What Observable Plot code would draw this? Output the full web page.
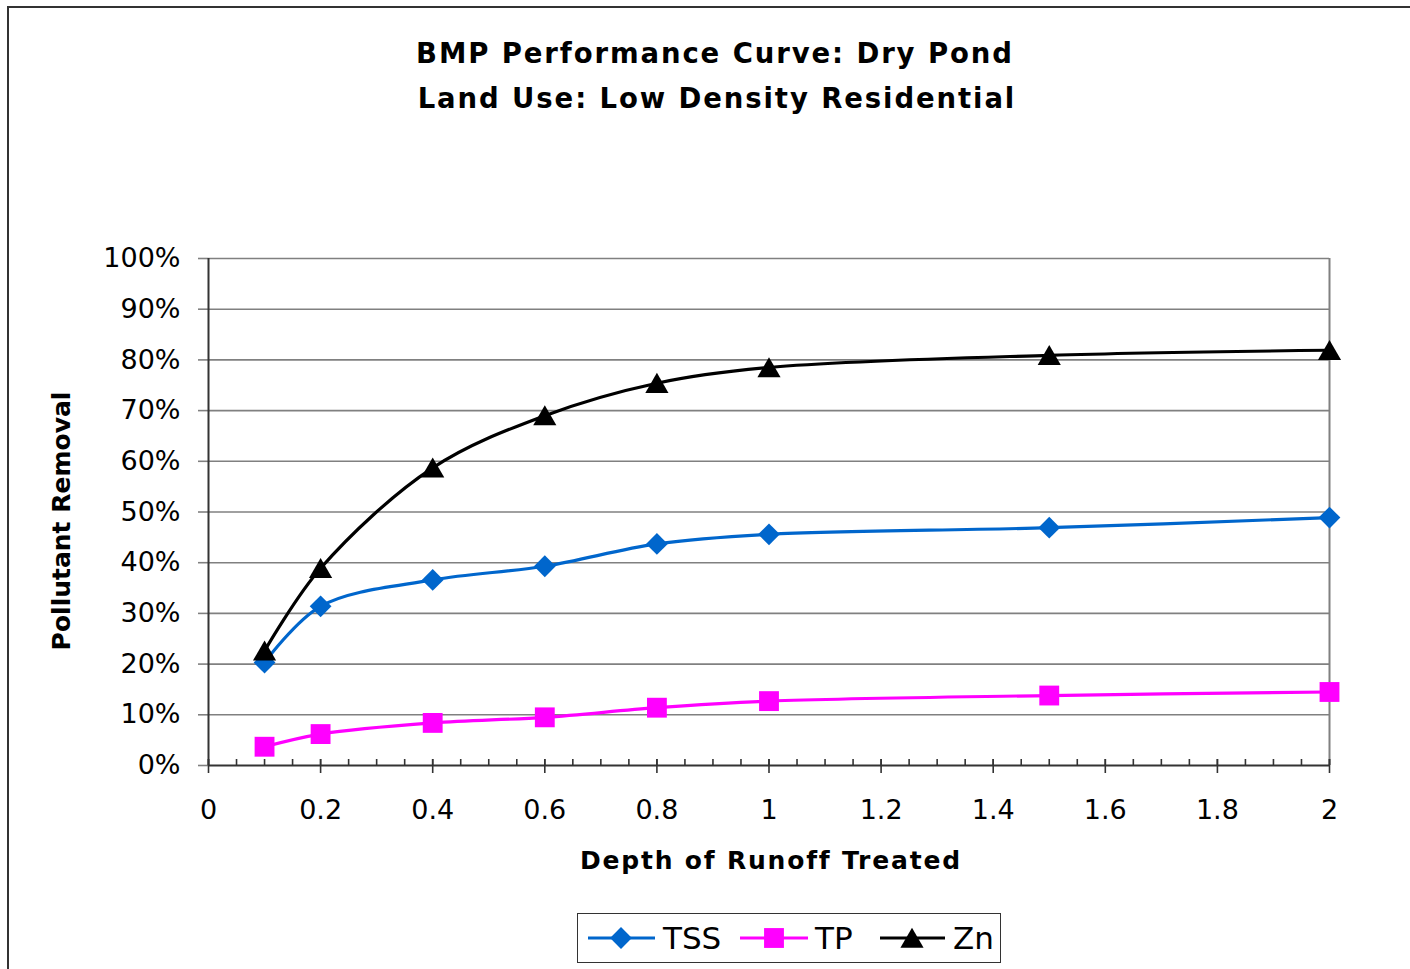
<!DOCTYPE html>
<html>
<head>
<meta charset="utf-8">
<script src="https://cdn.jsdelivr.net/npm/d3@7"></script>
<script src="https://cdn.jsdelivr.net/npm/@observablehq/plot@0.6"></script>
<style>
  html, body { margin: 0; padding: 0; background: #fff; }
  body { width: 1410px; height: 969px; overflow: hidden; position: relative; font-family: "DejaVu Sans", sans-serif; }
  #frame { position: absolute; left: 7px; top: 6px; width: 1500px; height: 1100px; border: 2px solid #333; }
  #chart { position: absolute; left: 0; top: 0; }
  .lbl { position: absolute; white-space: nowrap; line-height: 1; font-weight: bold; color: #000; }
  #legend { position: absolute; left: 577px; top: 913px; width: 422px; height: 48px; border: 1.5px solid #333; background: #fff; }
</style>
</head>
<body>
<div id="frame"></div>
<div id="chart"></div>
<div class="lbl" id="title1">BMP Performance Curve: Dry Pond</div>
<div class="lbl" id="title2">Land Use: Low Density Residential</div>
<div class="lbl" id="xlabel">Depth of Runoff Treated</div>
<div class="lbl" id="ylabel">Pollutant Removal</div>
<div id="legend"></div>
<script>
// ---- data ----
const depth = [0.1, 0.2, 0.4, 0.6, 0.8, 1, 1.5, 2];
const tss = [20.3, 31.4, 36.6, 39.3, 43.7, 45.6, 46.9, 48.9];
const tp  = [3.7, 6.2, 8.4, 9.5, 11.4, 12.7, 13.8, 14.5];
const zn  = [22.6, 38.9, 58.7, 69.0, 75.4, 78.5, 80.9, 81.9];

const seriesNames   = ["TSS", "TP", "Zn"];
const seriesValues  = [tss, tp, zn];
const seriesColors  = ["#0066CC", "#FF00FF", "#000000"];
const seriesSymbols = ["diamond2", "square", "triangle"];

const yTicks = [0, 10, 20, 30, 40, 50, 60, 70, 80, 90, 100];
const xTicks = [0, 0.2, 0.4, 0.6, 0.8, 1, 1.2, 1.4, 1.6, 1.8, 2];
const xMinorTicks = d3.ticks(0, 2, 50);

// ---- layout ----
const W = 1410, H = 969;
const mL = 208, mR = 81, mT = 258, mB = 204;
const plotH = H - mT - mB;

const symbolR = {diamond2: 9.8, square: 11.2, triangle: 8.6};
const symbolDy = {diamond2: 0, square: 0, triangle: 3};

const rows = seriesNames.map((name, i) =>
  depth.map((d, j) => ({series: name, depth: d, value: seriesValues[i][j]})));

const marks = [
  Plot.ruleY(yTicks.filter(d => d > 0), {stroke: "#808080", strokeWidth: 1.6}),
  Plot.ruleX([2], {stroke: "#808080", strokeWidth: 2}),
  Plot.axisY({ticks: yTicks, tickSize: 10, tickPadding: 18, tickFormat: d => d + "%", label: null,
              stroke: "#808080", strokeWidth: 1.6, fill: "#000"}),
  Plot.axisX({ticks: xTicks, tickSize: 8, tickPadding: 26, tickFormat: d3.format("~g"), label: null,
              stroke: "#333", strokeWidth: 1.6, fill: "#000"}),
  Plot.tickX(xMinorTicks, {x: d => d, insetTop: plotH - 6, stroke: "#333", strokeWidth: 1.6}),
  Plot.tickX(xTicks, {x: d => d, insetTop: plotH - 6, stroke: "#333", strokeWidth: 1.6}),
  Plot.ruleX([0], {stroke: "#333", strokeWidth: 2}),
  Plot.ruleY([0], {stroke: "#333", strokeWidth: 2}),
];
rows.forEach((r, i) => {
  marks.push(Plot.line(r, {x: "depth", y: "value", stroke: seriesColors[i], strokeWidth: 3.2, curve: "catmull-rom"}));
});
rows.forEach((r, i) => {
  const s = seriesSymbols[i];
  marks.push(Plot.dot(r, {x: "depth", y: "value", symbol: () => s, fill: seriesColors[i], stroke: "none",
                          r: symbolR[s], dy: symbolDy[s]}));
});

const chart = Plot.plot({
  width: W, height: H,
  marginLeft: mL, marginRight: mR, marginTop: mT, marginBottom: mB,
  x: {domain: [0, 2]},
  y: {domain: [0, 100]},
  symbol: {type: "identity"},
  style: {fontFamily: "DejaVu Sans, sans-serif", fontSize: "27px", background: "transparent", color: "#000", overflow: "visible"},
  marks
});
document.getElementById("chart").appendChild(chart);

// ---- text placement (cap-centre based) ----
function place(id, cx, cy, fs, ls, rotate) {
  const el = document.getElementById(id);
  el.style.fontSize = fs + "px";
  el.style.letterSpacing = ls + "px";
  el.style.paddingLeft = ls + "px";
  if (rotate) {
    el.style.left = cx + "px";
    el.style.top = cy + "px";
    el.style.transform = "translate(-50%, -50%) rotate(-90deg)";
  } else {
    el.style.left = cx + "px";
    el.style.top = (cy - 0.4815 * fs) + "px";
    el.style.transform = "translateX(-50%)";
  }
}
place("title1", 714, 53, 27.5, 1.9);
place("title2", 716, 98, 27.5, 1.9);
place("xlabel", 770, 860, 25, 1.8);
place("ylabel", 61, 521, 25, 0, true);

// ---- legend ----
const lg = d3.select("#legend").append("svg").attr("width", 422).attr("height", 48)
  .style("position", "absolute").style("left", 0).style("top", 0);
const legendItems = [
  {x0: 10, x1: 77, mx: 43, tx: 85},
  {x0: 162, x1: 230, mx: 196, tx: 237},
  {x0: 302, x1: 367, mx: 334, tx: 375}
];
const symMap = {diamond2: d3.symbolDiamond2, square: d3.symbolSquare, triangle: d3.symbolTriangle};
seriesNames.forEach((name, i) => {
  const it = legendItems[i], cy = 24, s = seriesSymbols[i];
  lg.append("line").attr("x1", it.x0).attr("x2", it.x1).attr("y1", cy).attr("y2", cy)
    .attr("stroke", seriesColors[i]).attr("stroke-width", 3.2);
  lg.append("path").attr("d", d3.symbol(symMap[s], Math.PI * symbolR[s] * symbolR[s])())
    .attr("transform", `translate(${it.mx},${cy + symbolDy[s]})`).attr("fill", seriesColors[i]);
  lg.append("text").attr("x", it.tx).attr("y", cy).attr("dy", "0.36em")
    .attr("font-family", "DejaVu Sans, sans-serif").attr("font-size", 31).attr("fill", "#000").text(name);
});
</script>
</body>
</html>
